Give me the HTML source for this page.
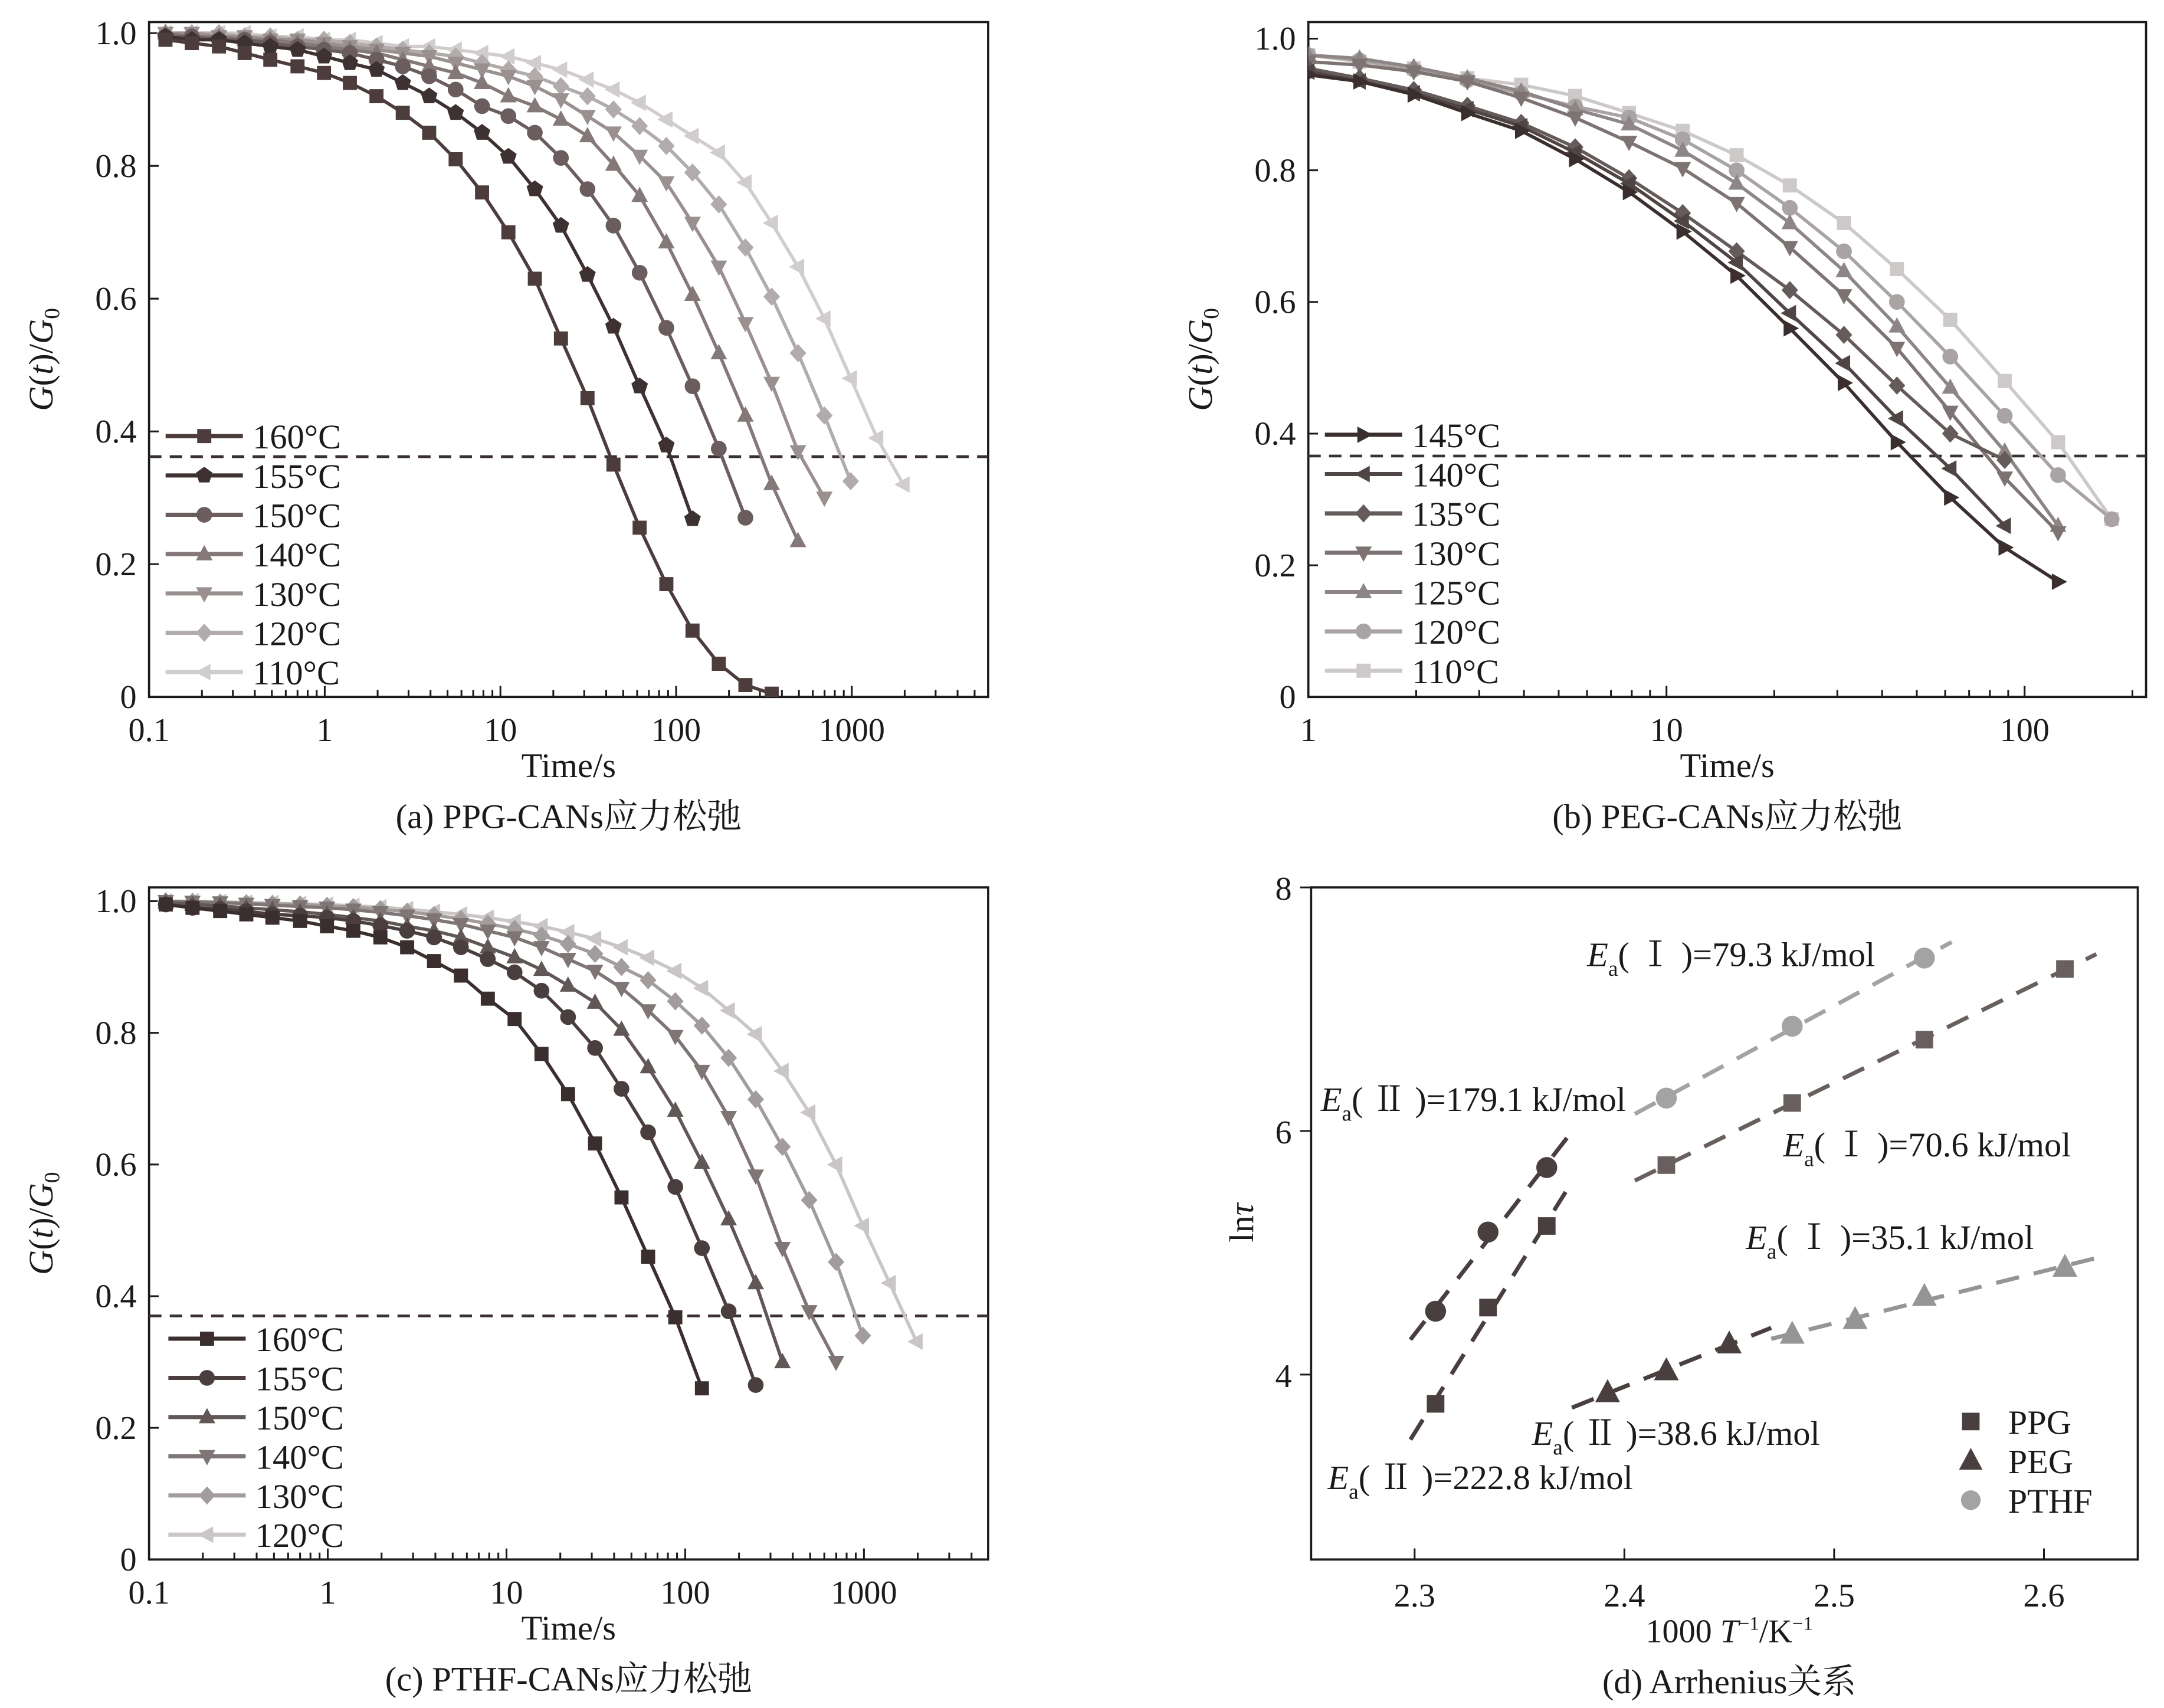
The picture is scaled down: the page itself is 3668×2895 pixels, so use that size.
<!DOCTYPE html>
<html><head><meta charset="utf-8"><style>
html,body{margin:0;padding:0;background:#fff;}
svg{display:block;font-family:"Liberation Serif","Noto Serif CJK SC","Noto Sans CJK SC",serif;}
</style></head><body>
<svg id="fig" xmlns="http://www.w3.org/2000/svg" width="3668" height="2895" viewBox="0 0 1568 1237.6" preserveAspectRatio="none">
<rect x="0" y="0" width="1568" height="1237.6" fill="#fff"/>
</svg>
<script>
// ---------- DATA ----------
const timeGridA = [0.124,0.175,0.25,0.35,0.49,0.70,0.99,1.39,1.97,2.78,3.93,5.56,7.86,11.1,15.7,22.1,31.3,44,62,88,124,175,248,350,494,698,986,1393,1967];
const timeGridB = [1.0,1.39,1.97,2.78,3.93,5.56,7.86,11.1,15.7,22.1,31.3,44,62,88,124,175];

const labelsA = ['160°C','155°C','150°C','140°C','130°C','120°C','110°C'];
const a160 = [.99,.985,.98,.97,.96,.95,.94,.925,.905,.88,.85,.81,.76,.70,.63,.54,.45,.35,.255,.17,.10,.05,.018,.005];
const a155 = [.995,.99,.99,.985,.98,.975,.965,.955,.945,.925,.905,.88,.85,.814,.765,.71,.636,.558,.468,.379,.268];
const a150 = [.995,.995,.99,.99,.985,.98,.975,.97,.96,.95,.935,.915,.89,.875,.85,.812,.765,.71,.639,.556,.468,.374,.27];
const a140 = [1,.995,.995,.99,.99,.985,.98,.975,.97,.96,.95,.94,.925,.905,.89,.87,.845,.802,.755,.685,.606,.518,.424,.321,.235];
const a130 = [1,1,.995,.995,.99,.99,.985,.98,.975,.97,.965,.955,.945,.935,.92,.9,.875,.85,.815,.775,.714,.648,.563,.473,.37,.30];
const a120 = [1,1,1,.995,.995,.99,.99,.985,.98,.975,.97,.965,.955,.945,.935,.92,.905,.885,.86,.83,.79,.742,.677,.603,.518,.424,.325];
const a110 = [1,1,1,1,.995,.995,.99,.99,.985,.98,.98,.975,.97,.965,.955,.945,.93,.915,.895,.87,.845,.82,.775,.714,.648,.57,.48,.39,.32];
const refA = 0.362;

const labelsB = ['145°C','140°C','135°C','130°C','125°C','120°C','110°C'];
const b145 = [.945,.935,.915,.887,.86,.817,.767,.707,.64,.56,.477,.387,.303,.227,.175];
const b140 = [.95,.935,.917,.893,.867,.827,.78,.723,.66,.583,.507,.423,.347,.26];
const b135 = [.955,.94,.922,.898,.872,.835,.788,.735,.677,.618,.55,.473,.4,.36];
const b130 = [.965,.96,.95,.935,.91,.88,.843,.803,.75,.683,.61,.53,.433,.333,.25];
const b125 = [.975,.97,.957,.94,.92,.893,.87,.83,.78,.72,.647,.563,.47,.373,.26];
const b120 = [.975,.967,.953,.937,.917,.897,.88,.847,.8,.743,.677,.6,.517,.427,.337,.27];
const b110 = [.975,.965,.955,.94,.93,.913,.887,.86,.823,.777,.72,.65,.573,.48,.387,.27];
const refB = 0.366;

const labelsC = ['160°C','155°C','150°C','140°C','130°C','120°C'];
const c160 = [.995,.99,.985,.98,.975,.97,.962,.955,.945,.93,.909,.887,.852,.821,.768,.707,.632,.55,.46,.368,.26];
const c155 = [.995,.99,.988,.985,.98,.978,.975,.97,.963,.955,.945,.93,.912,.892,.864,.824,.777,.715,.649,.566,.473,.377,.265];
const c150 = [.998,.995,.993,.99,.987,.984,.98,.975,.97,.962,.955,.945,.93,.915,.896,.872,.846,.805,.748,.682,.603,.517,.42,.30];
const c140 = [1,.999,.998,.996,.994,.992,.99,.987,.983,.978,.972,.965,.955,.945,.93,.912,.894,.868,.834,.795,.742,.672,.583,.473,.377,.30];
const c130 = [1,.999,.998,.997,.996,.995,.993,.991,.988,.984,.979,.973,.966,.958,.948,.935,.92,.90,.88,.848,.811,.762,.699,.627,.546,.452,.34];
const c120 = [1,1,.999,.998,.997,.996,.995,.993,.991,.988,.984,.98,.975,.969,.962,.953,.943,.93,.914,.894,.868,.834,.798,.742,.679,.6,.507,.42,.331];
const refC = 0.37;

const xTicksLogA = ['0.1','1','10','100','1000'];
const xTicksLogB = ['1','10','100'];
const yTicksG = ['0','0.2','0.4','0.6','0.8','1.0'];

const dInvT = [2.31,2.335,2.363,2.42,2.48,2.543,2.61];
const dPPG = [3.76,4.55,5.22,5.72,6.23,6.75,7.33];
const dInvTPTHF = [2.31,2.335,2.363,2.42,2.48,2.543];
const dPTHF = [4.52,5.17,5.70,6.27,6.86,7.42];
const dInvTPEG = [2.392,2.42,2.45,2.48,2.51,2.543,2.61];
const dPEG = [3.85,4.03,4.25,4.33,4.45,4.64,4.88];
const dXTicks = ['2.3','2.4','2.5','2.6'];
const dYTicks = ['4','6','8'];

// ---------- HELPERS ----------
const NS='http://www.w3.org/2000/svg';
const svg=document.getElementById('fig');
function el(tag,attrs,parent){const e=document.createElementNS(NS,tag);for(const k in attrs)e.setAttribute(k,attrs[k]);(parent||svg).appendChild(e);return e;}
function grp(name){const g=el('g',{});


return g;}
function txt(parent,x,y,s,size,anchor,name){const t=el('text',{x:x,y:y,'font-size':size,'text-anchor':anchor||'middle',fill:'#1a1a1a'},parent);t.textContent=s;


return t;}
function marker(parent,shape,cx,cy,r,col){
  let e;
  if(shape==='circle'){e=el('circle',{cx:cx,cy:cy,r:r*0.95,fill:col},parent);}
  else{
    let pts;
    const s=r;
    if(shape==='square')pts=[[-s*.85,-s*.85],[s*.85,-s*.85],[s*.85,s*.85],[-s*.85,s*.85]];
    else if(shape==='up')pts=[[0,-s*1.1],[s,s*.75],[-s,s*.75]];
    else if(shape==='down')pts=[[0,s*1.1],[s,-s*.75],[-s,-s*.75]];
    else if(shape==='left')pts=[[-s*1.1,0],[s*.75,-s],[s*.75,s]];
    else if(shape==='right')pts=[[s*1.1,0],[-s*.75,-s],[-s*.75,s]];
    else if(shape==='diamond')pts=[[0,-s*1.1],[s*1.0,0],[0,s*1.1],[-s*1.0,0]];
    else if(shape==='pent'){pts=[];for(let i=0;i<5;i++){const a=-Math.PI/2+i*2*Math.PI/5;pts.push([s*1.05*Math.cos(a),s*1.05*Math.sin(a)]);}}
    e=el('polygon',{points:pts.map(p=>(cx+p[0]).toFixed(2)+','+(cy+p[1]).toFixed(2)).join(' '),fill:col},parent);
  }
  
  
  return e;
}

// ---------- RELAXATION PANELS ----------
function relaxPanel(cfg){
  const g=grp(cfg.name);
  const X=t=>cfg.x0+(Math.log10(t)-cfg.lmin)*cfg.dec;
  const Y=v=>cfg.y0-v*(cfg.y0-cfg.y1);
  const clipId=cfg.name+'-clip';
  const cp=el('clipPath',{id:clipId},g);
  el('rect',{x:cfg.x0,y:cfg.top-12,width:cfg.x2-cfg.x0+12,height:cfg.y0-cfg.top+12},cp);
  const frame=el('rect',{x:cfg.x0,y:cfg.top,width:cfg.x2-cfg.x0,height:cfg.y0-cfg.top,fill:'none',stroke:'#1a1a1a','stroke-width':1.6},g);
  
  
  const lmax=cfg.lmin+(cfg.x2-cfg.x0)/cfg.dec;
  for(let d=Math.floor(cfg.lmin);d<=Math.ceil(lmax);d++){
    for(let m=1;m<10;m++){
      const lv=d+Math.log10(m);
      if(lv<cfg.lmin-1e-6||lv>lmax)continue;
      const x=cfg.x0+(lv-cfg.lmin)*cfg.dec;
      const tk=el('line',{x1:x,x2:x,y1:cfg.y0,y2:cfg.y0-(m===1?8:5),stroke:'#1a1a1a','stroke-width':1.3},g);
      
      
    }
  }
  cfg.xticks.forEach(s=>{txt(g,X(parseFloat(s)),cfg.y0+32,s,24,'middle','x-tick-label');});
  yTicksG.forEach(s=>{const y=Y(parseFloat(s));
    const tk=el('line',{x1:cfg.x0,x2:cfg.x0+7,y1:y,y2:y,stroke:'#1a1a1a','stroke-width':1.3},g);
    
    
    txt(g,cfg.x0-9,y+8,s,24,'end','y-tick-label');});
  const rl=el('line',{x1:cfg.x0,x2:cfg.x2,y1:Y(cfg.ref),y2:Y(cfg.ref),stroke:'#3a3030','stroke-width':2,'stroke-dasharray':'9 6'},g);
  
  
  for(let i=cfg.series.length-1;i>=0;i--){
    const vals=cfg.series[i],col=cfg.colors[i],sh=cfg.shapes[i];
    const sg=el('g',{'clip-path':'url(#'+clipId+')'},g);
    
    
    const pts=vals.map((v,k)=>X(cfg.grid[k+cfg.off]).toFixed(2)+','+Y(v).toFixed(2)).join(' ');
    const pl=el('polyline',{points:pts,fill:'none',stroke:col,'stroke-width':2.4,'stroke-linejoin':'round'},sg);
    
    
    vals.forEach((v,k)=>marker(sg,sh,X(cfg.grid[k+cfg.off]),Y(v),6,col));
  }
  const lg=el('g',{},g);
  
  
  cfg.labels.forEach((lab,i)=>{
    const y=cfg.legY+i*cfg.legStep;
    const e=el('g',{},lg);
    
    
    el('line',{x1:cfg.legX,x2:cfg.legX+56,y1:y,y2:y,stroke:cfg.colors[i],'stroke-width':3},e);
    marker(e,cfg.shapes[i],cfg.legX+28,y,6,cfg.colors[i]);
    txt(e,cfg.legX+63,y+9,lab,25,'start','legend-label');
  });
  txt(g,(cfg.x0+cfg.x2)/2,cfg.y0+58,'Time/s',25,'middle','x-axis-title');
  const yl=el('text',{x:0,y:0,'font-size':25,'text-anchor':'middle',fill:'#1a1a1a',transform:'translate('+(cfg.x0-70)+','+((cfg.y0+cfg.top)/2)+') rotate(-90)'},g);
  
  
  yl.innerHTML='<tspan font-style="italic">G</tspan>(<tspan font-style="italic">t</tspan>)/<tspan font-style="italic">G</tspan><tspan font-size="16" dy="5">0</tspan>';
  txt(g,(cfg.x0+cfg.x2)/2,cfg.y0+95,cfg.caption,25,'middle','panel-caption');
}

relaxPanel({name:'panel-a',x0:108,x2:716,top:16,y0:505,y1:24,lmin:-1,dec:127.3,grid:timeGridA,off:0,
  series:[a160,a155,a150,a140,a130,a120,a110],labels:labelsA,
  colors:['#4d3c3c','#3e3131','#6b5d5d','#857878','#9a9090','#b2abab','#d2cdcd'],
  shapes:['square','pent','circle','up','down','diamond','left'],ref:refA,xticks:xTicksLogA,
  legX:120,legY:316,legStep:28.5,caption:'(a) PPG-CANs应力松弛'});
relaxPanel({name:'panel-b',x0:948,x2:1555,top:16,y0:505,y1:28,lmin:0,dec:259.5,grid:timeGridB,off:0,
  series:[b145,b140,b135,b130,b125,b120,b110],labels:labelsB,
  colors:['#3a2e2e','#504545','#665b5b','#7d7373','#8e8686','#a9a3a3','#cdc9c9'],
  shapes:['right','left','diamond','down','up','circle','square'],ref:refB,xticks:xTicksLogB,
  legX:960,legY:315,legStep:28.5,caption:'(b) PEG-CANs应力松弛'});
relaxPanel({name:'panel-c',x0:108,x2:716,top:643,y0:1130,y1:653,lmin:-1,dec:129.5,grid:timeGridA,off:0,
  series:[c160,c155,c150,c140,c130,c120],labels:labelsC,
  colors:['#3a2e2e','#4a3e3e','#625757','#7f7575','#a39c9c','#cbc6c6'],
  shapes:['square','circle','up','down','diamond','left'],ref:refC,xticks:xTicksLogA,
  legX:122,legY:970,legStep:28.4,caption:'(c) PTHF-CANs应力松弛'});

// ---------- ARRHENIUS PANEL ----------
(function(){
  const g=grp('panel-d');
  const x0=950,x2=1549,top=643,y0=1130;
  const X=v=>1025+(v-2.3)*1520;
  const Y=v=>643+(8-v)*88.25;
  const fr=el('rect',{x:x0,y:top,width:x2-x0,height:y0-top,fill:'none',stroke:'#1a1a1a','stroke-width':1.6},g);
  
  
  dXTicks.forEach(s=>{const x=X(parseFloat(s));
    const tk=el('line',{x1:x,x2:x,y1:y0,y2:y0-8,stroke:'#1a1a1a','stroke-width':1.3},g);
    
    
    txt(g,x,y0+34,s,24,'middle','x-tick-label');});
  dYTicks.forEach(s=>{const y=Y(parseFloat(s));
    const tk=el('line',{x1:x0-8,x2:x0,y1:y,y2:y,stroke:'#1a1a1a','stroke-width':1.3},g);
    
    
    txt(g,x0-14,y+9,s,24,'end','y-tick-label');});
  function fitLine(xs,ys,i0,i1,xa,xb,col,name){
    const px=xs.slice(i0,i1+1),py=ys.slice(i0,i1+1),n=px.length;
    const mx=px.reduce((a,b)=>a+b)/n,my=py.reduce((a,b)=>a+b)/n;
    let sxy=0,sxx=0;for(let k=0;k<n;k++){sxy+=(px[k]-mx)*(py[k]-my);sxx+=(px[k]-mx)**2;}
    const m=sxy/sxx,b=my-m*mx;
    const l=el('line',{x1:X(xa),y1:Y(m*xa+b),x2:X(xb),y2:Y(m*xb+b),stroke:col,'stroke-width':3,'stroke-dasharray':'17 11'},g);
    
    
  }
  fitLine(dInvT,dPPG,0,2,2.298,2.372,'#4a3f3f','fit-ppg-II');
  fitLine(dInvT,dPPG,3,6,2.405,2.625,'#6a5f5f','fit-ppg-I');
  fitLine(dInvTPTHF,dPTHF,0,2,2.298,2.375,'#4a3f3f','fit-pthf-II');
  fitLine(dInvTPTHF,dPTHF,3,5,2.405,2.556,'#a3a3a3','fit-pthf-I');
  fitLine(dInvTPEG,dPEG,0,2,2.375,2.47,'#4a3f3f','fit-peg-II');
  fitLine(dInvTPEG,dPEG,3,6,2.47,2.625,'#959595','fit-peg-I');
  dInvT.forEach((v,k)=>marker(g,'square',X(v),Y(dPPG[k]),7.5,k<3?'#4a3f3f':'#6a5f5f'));
  dInvTPTHF.forEach((v,k)=>marker(g,'circle',X(v),Y(dPTHF[k]),8,k<3?'#4a3f3f':'#a3a3a3'));
  dInvTPEG.forEach((v,k)=>marker(g,'up',X(v),Y(dPEG[k]),9,k<3?'#4a3f3f':'#959595'));
  function ea(x,y,roman,val){
    const t=el('text',{x:x,y:y,'font-size':25,fill:'#1a1a1a'},g);
    
    
    t.innerHTML='<tspan font-style="italic">E</tspan><tspan font-size="16" dy="7">a</tspan><tspan dy="-7">( '+roman+' )='+val+' kJ/mol</tspan>';
  }
  ea(1150,700,'Ⅰ','79.3');
  ea(957,805,'Ⅱ','179.1');
  ea(1292,838,'Ⅰ','70.6');
  ea(1265,905,'Ⅰ','35.1');
  ea(1110,1047,'Ⅱ','38.6');
  ea(962,1079,'Ⅱ','222.8');
  const lg=el('g',{},g);
  
  
  [['PPG','square','#4a3f3f'],['PEG','up','#4a3f3f'],['PTHF','circle','#a3a3a3']].forEach((e,i)=>{
    const y=1030+i*28.5;
    marker(lg,e[1],1428,y,e[1]==='up'?8.5:7.5,e[2]);
    txt(lg,1455,y+9,e[0],25,'start','legend-label');
  });
  const xl=el('text',{x:1253,y:1190,'font-size':24,'text-anchor':'middle',fill:'#1a1a1a'},g);
  
  
  xl.innerHTML='1000 <tspan font-style="italic">T</tspan><tspan font-size="14" dy="-9">−1</tspan><tspan dy="9">/K</tspan><tspan font-size="14" dy="-9">−1</tspan>';
  const yl=el('text',{x:0,y:0,'font-size':25,'text-anchor':'middle',fill:'#1a1a1a',transform:'translate(908,886) rotate(-90)'},g);
  
  
  yl.innerHTML='ln<tspan font-style="italic">τ</tspan>';
  txt(g,1253,1227,'(d) Arrhenius关系',25,'middle','panel-caption');
})();
</script>
</body></html>
